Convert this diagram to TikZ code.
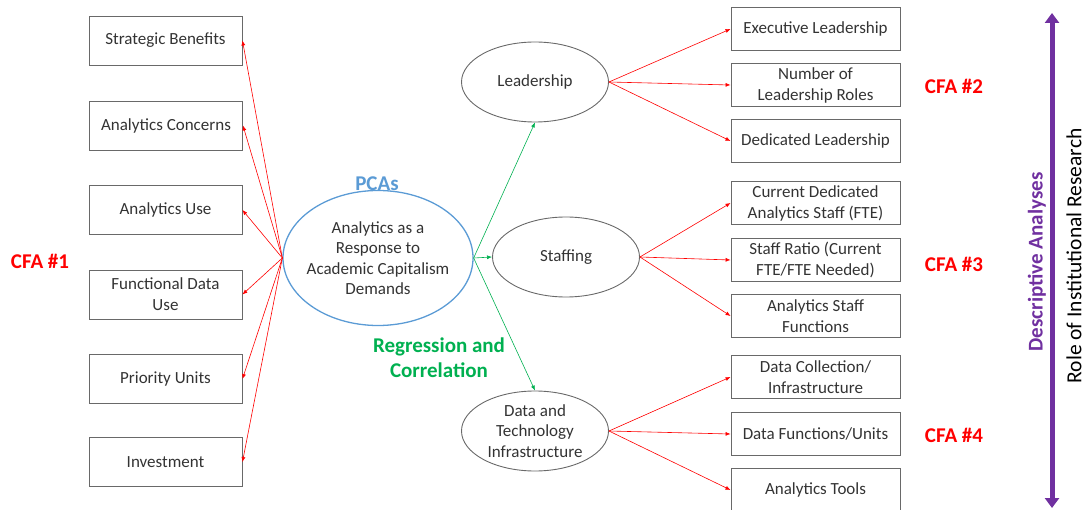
\documentclass[tikz,border=0pt]{standalone}
\usepackage{fontspec}
\setmainfont{Carlito}
\usetikzlibrary{arrows.meta,shapes.geometric}

\definecolor{cfared}{RGB}{255,0,0}
\definecolor{pcablue}{RGB}{91,155,213}
\definecolor{reggreen}{RGB}{0,176,80}
\definecolor{irpurple}{RGB}{112,48,160}
\definecolor{boxgray}{RGB}{105,105,105}

\begin{document}
\begin{tikzpicture}[x=1pt,y=-1pt,
  factor/.style={draw=boxgray,line width=0.9pt,minimum width=153pt,minimum height=49pt,inner sep=0pt,
    align=center,text=black!80,font=\fontsize{17}{21}\selectfont},
  item/.style={factor,minimum width=169pt,minimum height=43pt},
  latent/.style={ellipse,draw=boxgray,line width=0.9pt,minimum width=147pt,minimum height=80pt,inner sep=0pt},
  intext/.style={align=center,text=black!80,font=\fontsize{17}{20.5}\selectfont},
  redarr/.style={red,line width=0.6pt,-{Latex[length=5pt,width=4pt]}},
  greenarr/.style={reggreen,line width=0.6pt,-{Latex[length=5pt,width=4pt]}},
  cfa/.style={text=cfared,font=\bfseries\fontsize{21}{24}\selectfont}]
\useasboundingbox (0,0) rectangle (1086,510);

% left side: factors of the PCA
\node[factor] (sb) at (165.5,40.5) {Strategic Benefits};
\node[factor] (ac) at (166,125.5) {Analytics Concerns};
\node[factor] (au) at (165.5,210) {Analytics Use};
\node[factor] (fd) at (165.5,294.5) {Functional Data\\Use};
\node[factor] (pu) at (165.5,379) {Priority Units};
\node[factor] (inv) at (165.5,462) {Investment};
\node[cfa] (cfa1) at (40,261) {CFA \#1};

% centre
\node[ellipse,draw=pcablue,line width=1.3pt,minimum width=190pt,minimum height=135pt,inner sep=0pt,
  label={[intext]center:Analytics as a\\Response to\\Academic Capitalism\\Demands}] (pca) at (378,258) {};
\node[text=pcablue,font=\bfseries\fontsize{21}{24}\selectfont] (pcas) at (377,184) {PCAs};
\node[text=reggreen,align=center,font=\bfseries\fontsize{21}{25}\selectfont] (reg) at (439,358) {Regression and\\Correlation};

\foreach \f in {sb,ac,au,fd,pu,inv}
  \draw[redarr] (pca.west) -- (\f.east);

% latent constructs
\node[latent,label={[intext]center:Leadership}] (lead) at (535,82) {};
\node[latent,label={[intext]center:Staffing}] (staff) at (566,257) {};
\node[latent,label={[intext]center:Data and\\Technology\\Infrastructure}] (data) at (535,431) {};

\draw[greenarr] (pca.east) -- (lead.south);
\draw[greenarr] (pca.east) -- (staff.west);
\draw[greenarr] (pca.east) -- (data.north);

% right side: items
\node[item] (el) at (815.5,29) {Executive Leadership};
\node[item] (nl) at (815.5,85) {Number of\\Leadership Roles};
\node[item] (dl) at (815.5,141) {Dedicated Leadership};
\node[item] (cs) at (815.5,203) {Current Dedicated\\Analytics Staff (FTE)};
\node[item] (sr) at (815.5,260) {Staff Ratio (Current\\FTE/FTE Needed)};
\node[item] (sf) at (815.5,316) {Analytics Staff\\Functions};
\node[item] (dc) at (815.5,377) {Data Collection/\\Infrastructure};
\node[item] (df) at (815.5,434) {Data Functions/Units};
\node[item] (at) at (815.5,490) {Analytics Tools};

\foreach \i in {el,nl,dl}
  \draw[redarr] (lead.east) -- (\i.west);
\foreach \i in {cs,sr,sf}
  \draw[redarr] (staff.east) -- (\i.west);
\foreach \i in {dc,df,at}
  \draw[redarr] (data.east) -- (\i.west);

\node[cfa] (cfa2) at (954,86) {CFA \#2};
\node[cfa] (cfa3) at (954,264) {CFA \#3};
\node[cfa] (cfa4) at (954,435) {CFA \#4};

% role of IR
\coordinate (irtop) at (1052,13);
\coordinate (irbot) at (1052,508);
\draw[irpurple,line width=5pt,{Triangle[length=10pt,width=14pt]}-{Triangle[length=10pt,width=14pt]}] (irtop) -- (irbot);
\node[rotate=90,text=irpurple,font=\bfseries\fontsize{21}{24}\selectfont] (desc) at (1037,262) {Descriptive Analyses};
\node[rotate=90,font=\fontsize{21.5}{26}\selectfont] (role) at (1074,256) {Role of Institutional Research};
\end{tikzpicture}
\end{document}
